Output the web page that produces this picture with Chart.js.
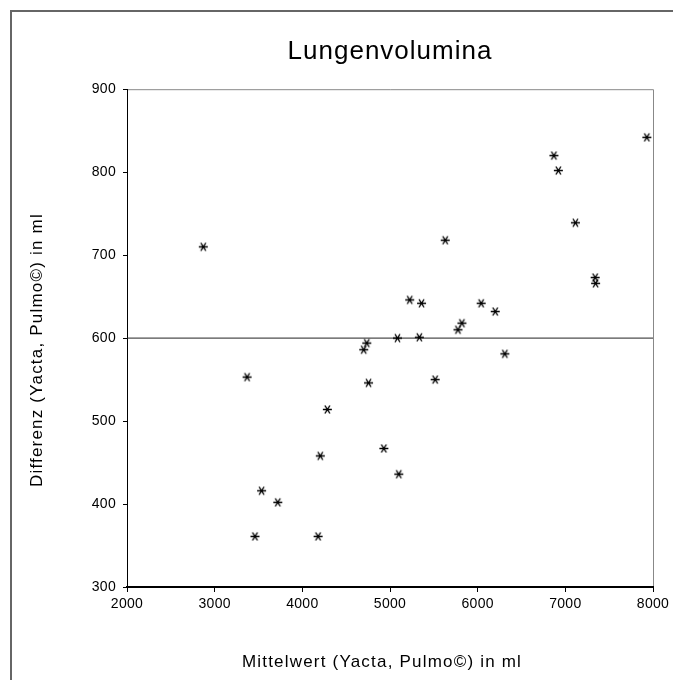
<!DOCTYPE html>
<html>
<head>
<meta charset="utf-8">
<title>Lungenvolumina</title>
<script src="https://cdn.jsdelivr.net/npm/chart.js@4.4.1/dist/chart.umd.min.js"></script>
<style>
  html, body { margin: 0; padding: 0; background: #fff; }
  #chartContainer { position: relative; width: 673px; height: 680px; }
</style>
</head>
<body>
<div id="chartContainer"><canvas id="lungChart" width="673" height="680"></canvas></div>
<script>
// Mittelwert der beiden Messungen (x) und Differenz Yacta - Pulmo (y), je Patient
const mittelwert = [2870, 3370, 3460, 3535, 3720, 4180, 4205, 4285, 4700, 4735,
                    4755, 4930, 5085, 5100, 5225, 5335, 5360, 5515, 5630, 5775,
                    5820, 6040, 6200, 6310, 6870, 6920, 7115, 7340, 7345, 7930];
const differenz  = [710, 553, 361, 416, 402, 361, 458, 514, 586, 594,
                    546, 467, 600, 436, 646, 601, 642, 550, 718, 610,
                    618, 642, 632, 581, 820, 802, 739, 673, 666, 842];

// mittlere Differenz als Bezugslinie
const mittlereDifferenz = 600;

// Achsen: Grenzen und Schrittweite
const xAchse = [2000, 8000, 1000];
const yAchse = [300, 900, 100];

Chart.defaults.font.family = '"Liberation Sans", Arial, sans-serif';
Chart.defaults.color = "#000";

// Sternchen als Punktsymbol
function sternchen() {
  const c = document.createElement("canvas");
  c.width = 11;
  c.height = 11;
  const g = c.getContext("2d");
  g.strokeStyle = "#000";
  g.lineWidth = 1.4;
  g.beginPath();
  g.moveTo(1, 5.5); g.lineTo(10, 5.5);
  g.moveTo(3, 1.5); g.lineTo(8, 9.5);
  g.moveTo(8, 1.5); g.lineTo(3, 9.5);
  g.stroke();
  return c;
}

// Zeichenabstand: Titel weit, Achsentitel mittel, Beschriftung eng
function gesperrt(obj, methode, abstand, ctx, dx, dy) {
  if (obj[methode]._gesperrt) return;
  const orig = obj[methode].bind(obj);
  obj[methode] = function (...args) {
    ctx.save();
    ctx.letterSpacing = abstand;
    ctx.translate(dx, dy);
    orig(...args);
    ctx.restore();
  };
  obj[methode]._gesperrt = true;
}

// Rahmen um das Diagramm und um die Zeichenfläche
const rahmen = {
  id: "rahmen",
  afterLayout(chart) {
    // Titel über der Zeichenfläche zentrieren
    const t = chart.titleBlock;
    t.left = chart.chartArea.left;
    t.right = chart.chartArea.right;
  },
  beforeDraw(chart) {
    const ctx = chart.ctx;
    const a = chart.chartArea;
    ctx.save();
    ctx.strokeStyle = "#666";
    ctx.lineWidth = 2;
    ctx.strokeRect(11, 11, 800, 800);
    ctx.strokeStyle = "#888";
    ctx.lineWidth = 1;
    ctx.beginPath();
    ctx.moveTo(a.left, a.top + 0.5);
    ctx.lineTo(a.right + 0.5, a.top + 0.5);
    ctx.lineTo(a.right + 0.5, a.bottom);
    ctx.stroke();
    ctx.restore();
    ctx.letterSpacing = "0.3px";

    gesperrt(chart.titleBlock, "draw", "1px", ctx, 0, 0);
    gesperrt(chart.scales.x, "drawTitle", "1.2px", ctx, -8, 0);
    gesperrt(chart.scales.y, "drawTitle", "1.2px", ctx, 0, 12);
  },
};

const ctx = document.getElementById("lungChart").getContext("2d");

window.chart = new Chart(ctx, {
  data: {
    datasets: [
      {
        type: "scatter",
        label: "Differenz",
        data: mittelwert.map((x, i) => ({ x: x, y: differenz[i] })),
        pointStyle: sternchen(),
        pointRadius: 5,
        borderColor: "#000",
        order: 1,
      },
      {
        type: "line",
        label: "mittlere Differenz",
        data: [
          { x: xAchse[0], y: mittlereDifferenz },
          { x: xAchse[1], y: mittlereDifferenz },
        ],
        borderColor: "#222",
        borderWidth: 1,
        pointRadius: 0,
        fill: false,
        order: 2,
      },
    ],
  },
  options: {
    responsive: false,
    animation: false,
    layout: {
      padding: { left: 0, right: 20, top: 0, bottom: 0 },
    },
    plugins: {
      legend: { display: false },
      tooltip: { enabled: false },
      title: {
        display: true,
        text: "Lungenvolumina",
        color: "#000",
        font: { size: 26, weight: "normal", lineHeight: 1.2 },
        padding: { top: 36, bottom: 22 },
      },
    },
    scales: {
      x: {
        type: "linear",
        position: "bottom",
        min: xAchse[0],
        max: xAchse[1],
        ticks: {
          stepSize: xAchse[2],
          font: { size: 14 },
          padding: 4,
          maxRotation: 0,
          callback: (v) => String(v),
        },
        grid: {
          drawOnChartArea: false,
          drawTicks: true,
          tickLength: 5,
          color: "#000",
        },
        border: { color: "#000", width: 2 },
        title: {
          display: true,
          text: "Mittelwert (Yacta, Pulmo©) in ml",
          font: { size: 17, lineHeight: 1.2 },
          padding: { top: 0, bottom: 7 },
        },
        afterFit: (scale) => {
          scale.height = 93;
        },
      },
      y: {
        type: "linear",
        position: "left",
        min: yAchse[0],
        max: yAchse[1],
        ticks: {
          stepSize: yAchse[2],
          font: { size: 14 },
          padding: 7,
          callback: (v) => String(v),
        },
        grid: {
          drawOnChartArea: false,
          drawTicks: true,
          tickLength: 4,
          color: "#000",
        },
        border: { color: "#000", width: 1 },
        title: {
          display: true,
          text: "Differenz (Yacta, Pulmo©) in ml",
          font: { size: 17, lineHeight: 1.2 },
          padding: { top: 27, bottom: 0 },
        },
        afterFit: (scale) => {
          scale.width = 127;
        },
      },
    },
  },
  plugins: [rahmen],
});
</script>
</body>
</html>
